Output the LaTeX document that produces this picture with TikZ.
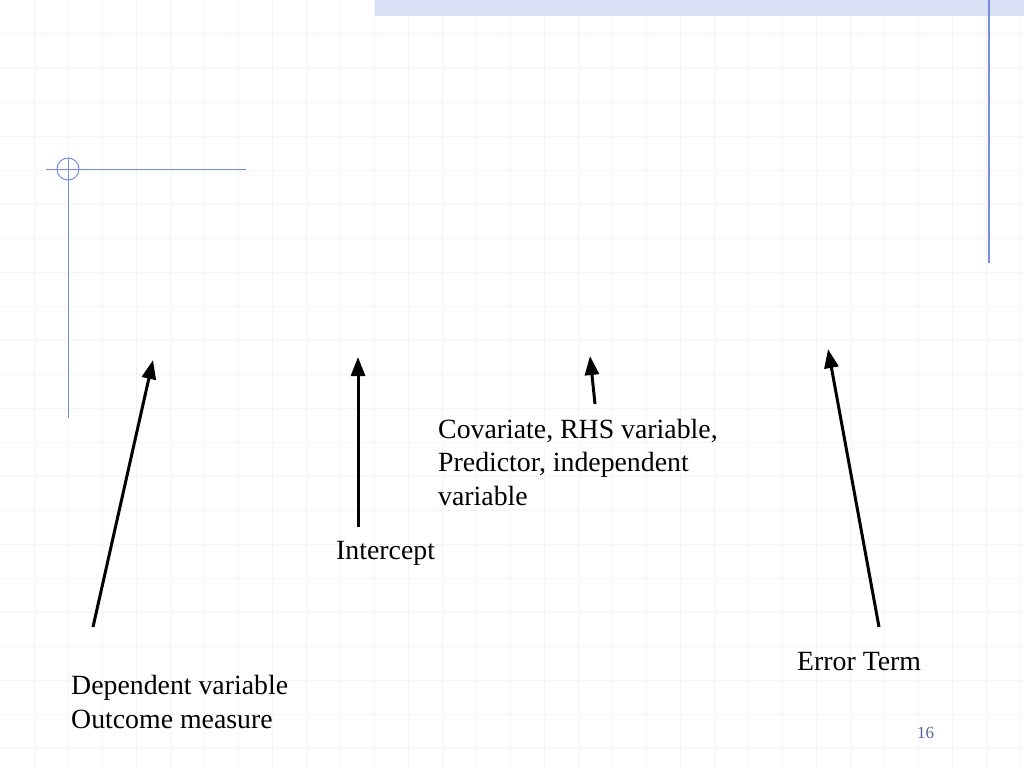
\documentclass[tikz,border=0pt]{standalone}
\usepackage{fontspec}
\setmainfont{Liberation Serif}
\usetikzlibrary{arrows.meta}
\definecolor{gridc}{RGB}{230,234,250}
\definecolor{deco}{RGB}{120,140,220}
\begin{document}
\begin{tikzpicture}[x=1pt,y=-1pt,
  arr/.style={line width=3pt,-{Triangle[length=19pt,width=14pt]}},
  lbl/.style={anchor=north west,inner sep=0pt,font=\fontsize{27.8}{33.5}\selectfont,align=left}]
\useasboundingbox (0,0) rectangle (1024,768);
\fill[white] (0,0) rectangle (1024,768);
\foreach \i in {1,...,30} {\draw[gridc,line width=1pt,densely dotted] (\i*34,0) -- (\i*34,768);}
\foreach \j in {1,...,22} {\draw[gridc,line width=1pt,densely dotted] (0,\j*34) -- (1024,\j*34);}
\fill[deco!28] (375,0) rectangle (1024,16);
\draw[deco,line width=1.2pt] (989,0) -- (989,263);
\draw[deco,line width=1pt] (46,169) -- (246,169);
\draw[deco,line width=1pt] (68,158) -- (68,418);
\draw[deco,line width=1pt] (68,169) circle (11);
\coordinate (a1) at (93,627); \coordinate (b1) at (153,360);
\coordinate (a2) at (358,527); \coordinate (b2) at (358,357);
\coordinate (a3) at (595,404); \coordinate (b3) at (590,356);
\coordinate (a4) at (879,627); \coordinate (b4) at (828,349);
\draw[arr] (a1) -- (b1);
\draw[arr] (a2) -- (b2);
\draw[arr] (a3) -- (b3);
\draw[arr] (a4) -- (b4);
\node[lbl] (cov) at (438,419) {Covariate, RHS variable,\\Predictor, independent\\variable};
\node[lbl] (int) at (336,541) {Intercept};
\node[lbl] (err) at (797,652) {Error Term};
\node[lbl] (dep) at (71,675) {Dependent variable\\Outcome measure};
\node[anchor=north west,inner sep=0pt,text=deco!70!black,font=\fontsize{17}{18}\selectfont] (pg) at (917,727) {16};
\end{tikzpicture}
\end{document}
